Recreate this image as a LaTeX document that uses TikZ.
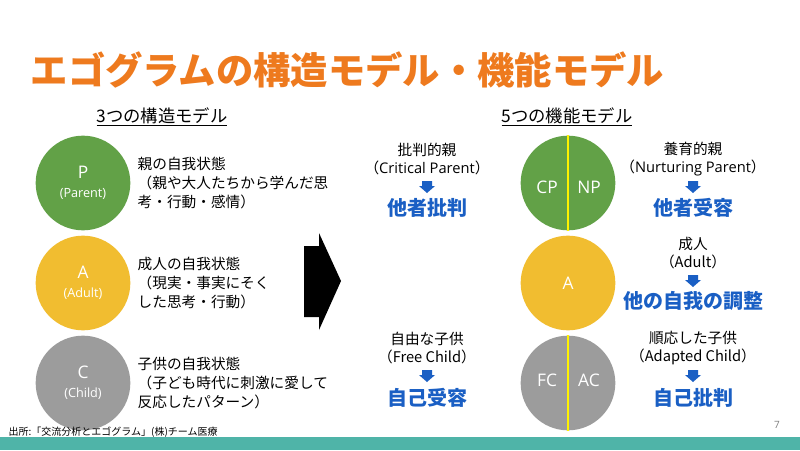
\documentclass[tikz,border=0pt]{standalone}
\usepackage{fontspec}
\setmainfont{Noto Sans CJK JP}
\newfontfamily\lat{Open Sans}
\newfontfamily\jp{Noto Sans CJK JP}
\begin{document}
\begin{tikzpicture}[x=0.75pt,y=-0.75pt,
  txt/.style={font=\fontsize{11}{14.5}\selectfont,align=left,anchor=west},
  lab/.style={font=\fontsize{11}{13.5}\selectfont,align=center},
  blu/.style={font=\bfseries\fontsize{15}{17}\selectfont,text=bluec},
  circ/.style={circle,minimum size=71pt,inner sep=0pt,text=white,font=\fontsize{13}{15}\selectfont,align=center}]
\definecolor{orangec}{HTML}{EE7A1E}
\definecolor{greenc}{HTML}{62A147}
\definecolor{yellowc}{HTML}{F1BD30}
\definecolor{grayc}{HTML}{9C9C9C}
\definecolor{bluec}{HTML}{1A5FC4}
\definecolor{tealc}{HTML}{4FB4A8}
\useasboundingbox (0,0) rectangle (800,450);
\fill[white] (0,0) rectangle (800,450);
\fill[tealc] (0,437) rectangle (800,450);
\node[anchor=west,text=orangec,font=\bfseries\fontsize{28}{30}\selectfont] (title) at (26,70) {エゴグラムの構造モデル・機能モデル};
\node[font=\fontsize{13}{15}\selectfont] (s1) at (162,117) {\underline{3つの構造モデル}};
\node[font=\fontsize{13}{15}\selectfont] (s2) at (567,117) {\underline{5つの機能モデル}};
% left circles
\node[circ,fill=greenc] (P) at (83,183) {{\lat P}\\[-1pt]{\lat\fontsize{9.5}{11}\selectfont (Parent)}};
\node[circ,fill=yellowc] (A) at (83,283) {{\lat A}\\[-1pt]{\lat\fontsize{9.5}{11}\selectfont (Adult)}};
\node[circ,fill=grayc] (C) at (83,383) {{\lat C}\\[-1pt]{\lat\fontsize{9.5}{11}\selectfont (Child)}};
\node[txt] (tP) at (133,183) {親の自我状態\\（親や大人たちから学んだ思\\考・行動・感情）};
\node[txt] (tA) at (133,283) {成人の自我状態\\（現実・事実にそく\\した思考・行動）};
\node[txt] (tC) at (133,383) {子供の自我状態\\（子ども時代に刺激に愛して\\反応したパターン）};
% big arrow
\fill[black] (304,246) -- (319,246) -- (319,233) -- (341,281) -- (319,330) -- (319,317) -- (304,317) -- cycle;
% right circles
\node[circ,fill=greenc] (CPNP) at (568,183) {};
\node[circ,fill=yellowc] (A2) at (568,283) {\lat A};
\node[circ,fill=grayc] (FCAC) at (568,383) {};
\draw[yellow,line width=1.5pt] (CPNP.north) -- (CPNP.south);
\draw[yellow,line width=1.5pt] (FCAC.north) -- (FCAC.south);
\node[text=white,font=\lat\fontsize{13}{15}\selectfont] (cp) at (547,187) {CP};
\node[text=white,font=\lat\fontsize{13}{15}\selectfont] (np) at (589,187) {NP};
\node[text=white,font=\lat\fontsize{13}{15}\selectfont] (fc) at (547,380) {FC};
\node[text=white,font=\lat\fontsize{13}{15}\selectfont] (ac) at (589,380) {AC};
% labels
\newcommand{\myarr}[2]{\fill[bluec] (#1-5,#2-6) -- (#1+5,#2-6) -- (#1+5,#2-1) -- (#1+8,#2-1) -- (#1,#2+6) -- (#1-8,#2-1) -- (#1-5,#2-1) -- cycle;}
\node[lab] (l1) at (427,159) {批判的親\\{\jp（}{\lat Critical Parent}{\jp）}};
\myarr{427}{187}
\node[blu] (b1) at (427,208) {他者批判};
\node[lab] (l2) at (693,159) {養育的親\\{\jp（}{\lat Nurturing Parent}{\jp）}};
\myarr{693}{187}
\node[blu] (b2) at (693,208) {他者受容};
\node[lab] (l3) at (693,253) {成人\\（Adult）};
\myarr{693}{281}
\node[blu] (b3) at (693,301) {他の自我の調整};
\node[lab] (l4) at (427,348) {自由な子供\\（Free Child）};
\myarr{427}{376}
\node[blu] (b4) at (427,398) {自己受容};
\node[lab] (l5) at (693,348) {順応した子供\\（Adapted Child）};
\myarr{693}{376}
\node[blu] (b5) at (693,398) {自己批判};
\node[text=gray,font=\lat\fontsize{7.5}{9}\selectfont] (pg) at (777,425) {7};
\node[anchor=west,font=\fontsize{7.5}{9}\selectfont] (src) at (4,432) {出所:「交流分析とエゴグラム」(株)チーム医療};
\end{tikzpicture}
\end{document}
